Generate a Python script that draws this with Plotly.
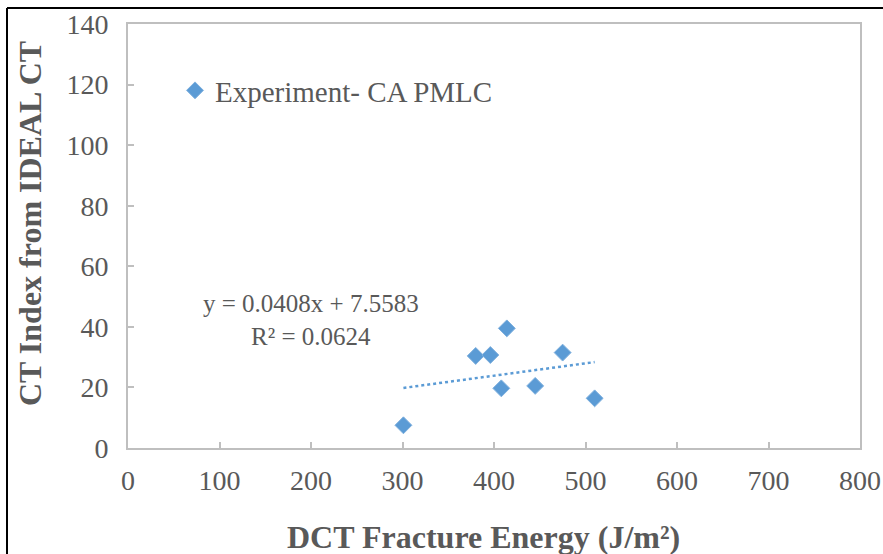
import plotly.graph_objects as go

# Data
fracture_energy = [301, 380, 396, 414, 408, 445, 475, 510]
ct_index = [7.5, 30.4, 30.7, 39.5, 19.7, 20.5, 31.5, 16.4]
series_name = "Experiment- CA PMLC"

# Linear trendline shown on the chart
slope = 0.0408
intercept = 7.5583
r_squared = 0.0624

x_ticks = [0, 100, 200, 300, 400, 500, 600, 700, 800]
y_ticks = [0, 20, 40, 60, 80, 100, 120, 140]
x_title = "DCT Fracture Energy (J/m²)"
y_title = "CT Index from IDEAL CT"

blue = "#5B9BD5"
grey_text = "#595959"
frame = "#BFBFBF"
serif = "Liberation Serif, Times New Roman, serif"

trend_x = [min(fracture_energy), max(fracture_energy)]
trend_y = [slope * v + intercept for v in trend_x]

fig = go.Figure()
fig.add_trace(go.Scatter(
    x=fracture_energy, y=ct_index, mode="markers", name=series_name,
    marker=dict(symbol="diamond", size=13, color=blue,
                line=dict(color="#7FB0DE", width=1)),
))
fig.add_trace(go.Scatter(
    x=trend_x, y=trend_y, mode="lines", showlegend=False,
    line=dict(color=blue, width=2.5, dash="dot"),
))

fig.add_annotation(
    x=0.25, y=0.302, xref="paper", yref="paper", xanchor="center", yanchor="middle",
    text=f"y = {slope}x + {intercept}<br>R² = {r_squared}",
    showarrow=False, align="center",
    font=dict(family=serif, size=25, color=grey_text),
)

# axis titles
fig.add_annotation(
    x=(483 - 128) / 732, y=(448 - 537) / 424, xref="paper", yref="paper",
    xanchor="center", yanchor="middle", showarrow=False, text=f"<b>{x_title}</b>",
    font=dict(family=serif, size=32, color=grey_text),
)
fig.add_annotation(
    x=(30 - 128) / 732, y=(448 - 224) / 424, xref="paper", yref="paper",
    xanchor="center", yanchor="middle", showarrow=False, textangle=-90,
    text=f"<b>{y_title}</b>",
    font=dict(family=serif, size=32, color=grey_text),
)

# outer black frame (left and top edges visible)
fig.add_shape(type="line", xref="paper", yref="paper",
              x0=(7 - 128) / 732, x1=(7 - 128) / 732, y0=(448 - 8) / 424, y1=-0.5,
              line=dict(color="black", width=2))
fig.add_shape(type="line", xref="paper", yref="paper",
              x0=(7 - 128) / 732, x1=1.2, y0=(448 - 8) / 424, y1=(448 - 8) / 424,
              line=dict(color="black", width=2))

axis_common = dict(
    showgrid=False, zeroline=False, showline=True, linecolor=frame, linewidth=2,
    mirror=True, ticks="inside", ticklen=6, tickcolor=frame, tickwidth=1.5,
    tickfont=dict(family=serif, size=28, color=grey_text), automargin=False,
)

fig.update_xaxes(
    range=[0, 800], tickvals=x_ticks, ticktext=[str(v) for v in x_ticks],
    ticklabelstandoff=6, **axis_common,
)
fig.update_yaxes(
    range=[0, 140], tickvals=y_ticks, ticktext=[str(v) for v in y_ticks],
    ticklabelstandoff=12, **axis_common,
)

fig.update_layout(
    width=883, height=554,
    margin=dict(l=128, r=23, t=24, b=106),
    plot_bgcolor="white", paper_bgcolor="white",
    showlegend=True,
    legend=dict(x=(175 - 128) / 732, y=(448 - 65) / 424, xanchor="left", yanchor="top",
                bgcolor="rgba(0,0,0,0)",
                font=dict(family=serif, size=29, color=grey_text)),
)

fig.write_html("out.html")
